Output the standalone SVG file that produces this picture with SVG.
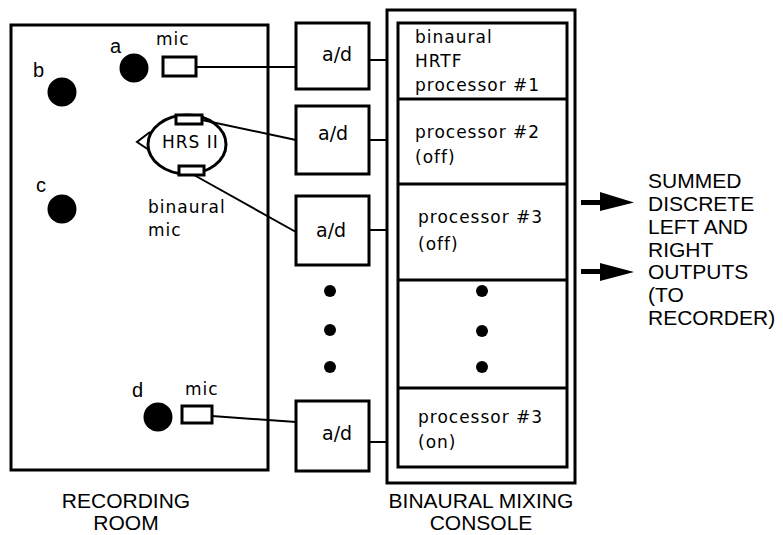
<svg xmlns="http://www.w3.org/2000/svg" width="783" height="535" viewBox="0 0 783 535">
<style>
.box{fill:#fff;stroke:#000;stroke-width:3}
.ln{stroke:#000;stroke-width:2;fill:none}
.dv{stroke:#000;stroke-width:3}
.dot{fill:#000}
.t{font-family:"DejaVu Sans",Verdana,sans-serif;font-size:17px;letter-spacing:1px;fill:#000}
.ad{font-family:"DejaVu Sans",Verdana,sans-serif;font-size:19px;fill:#000}
.lt{font-family:"Liberation Sans",Arial,sans-serif;font-size:20px;fill:#000}
.cap{font-family:"Liberation Sans",Arial,sans-serif;font-size:21px;fill:#000}
</style>
<rect width="783" height="535" fill="#fff"/>

<g id="room">
<rect class="box" x="11" y="25" width="257" height="445"/>
<text class="cap" x="126" y="508" text-anchor="middle">RECORDING</text>
<text class="cap" x="126" y="530" text-anchor="middle">ROOM</text>
</g>

<g id="source-a">
<circle class="dot" cx="134" cy="68" r="14.5"/>
<text class="lt" x="110" y="53">a</text>
</g>
<g id="source-b">
<circle class="dot" cx="62" cy="92" r="14.5"/>
<text class="lt" x="33" y="77">b</text>
</g>
<g id="source-c">
<circle class="dot" cx="62" cy="209" r="14.5"/>
<text class="lt" x="36" y="192">c</text>
</g>
<g id="source-d">
<circle class="dot" cx="158" cy="417" r="14.5"/>
<text class="lt" x="132" y="397">d</text>
</g>

<g id="mic-a">
<rect class="box" x="163" y="57" width="33" height="19"/>
<text class="t" x="156" y="45">mic</text>
</g>
<g id="mic-d">
<rect class="box" x="182" y="406" width="30" height="17"/>
<text class="t" x="185" y="395">mic</text>
</g>

<g id="binaural-mic">
<ellipse class="box" cx="187" cy="144.5" rx="39" ry="29.5"/>
<polyline class="ln" points="150,132 137,142 149,150"/>
<rect class="box" x="176" y="115" width="26" height="9"/>
<rect class="box" x="179" y="166" width="25" height="9"/>
<text class="t" x="162" y="148">HRS II</text>
<text class="t" x="148" y="213">binaural</text>
<text class="t" x="148" y="236">mic</text>
</g>

<g id="ad1">
<rect class="box" x="296" y="23" width="73" height="66"/>
<text class="ad" x="322" y="61">a/d</text>
</g>
<g id="ad2">
<rect class="box" x="296" y="106" width="73" height="68"/>
<text class="ad" x="318" y="140">a/d</text>
</g>
<g id="ad3">
<rect class="box" x="296" y="196" width="73" height="69"/>
<text class="ad" x="316" y="237">a/d</text>
</g>
<g id="ad4">
<rect class="box" x="296" y="401" width="73" height="70"/>
<text class="ad" x="322" y="440">a/d</text>
</g>
<g id="ad-dots">
<circle class="dot" cx="330" cy="291" r="6"/>
<circle class="dot" cx="330" cy="330" r="6"/>
<circle class="dot" cx="330" cy="367" r="6"/>
</g>

<g id="console">
<rect class="box" x="387" y="10" width="188" height="473"/>
<rect class="box" x="398" y="23" width="169" height="444"/>
<line class="dv" x1="398" y1="99" x2="567" y2="99"/>
<line class="dv" x1="398" y1="184" x2="567" y2="184"/>
<line class="dv" x1="398" y1="280" x2="567" y2="280"/>
<line class="dv" x1="398" y1="388" x2="567" y2="388"/>
<text class="cap" x="481" y="508" text-anchor="middle">BINAURAL MIXING</text>
<text class="cap" x="481" y="530" text-anchor="middle">CONSOLE</text>
</g>
<g id="proc1">
<text class="t" x="415" y="43">binaural</text>
<text class="t" x="415" y="67">HRTF</text>
<text class="t" x="415" y="91">processor #1</text>
</g>
<g id="proc2">
<text class="t" x="415" y="138">processor #2</text>
<text class="t" x="415" y="163">(off)</text>
</g>
<g id="proc3">
<text class="t" x="418" y="223">processor #3</text>
<text class="t" x="418" y="250">(off)</text>
</g>
<g id="proc-dots">
<circle class="dot" cx="482" cy="291" r="6"/>
<circle class="dot" cx="482" cy="331" r="6"/>
<circle class="dot" cx="482" cy="367" r="6"/>
</g>
<g id="proc-n">
<text class="t" x="418" y="423">processor #3</text>
<text class="t" x="418" y="448">(on)</text>
</g>

<g id="outputs">
<text class="cap" x="648" y="188">SUMMED</text>
<text class="cap" x="648" y="211">DISCRETE</text>
<text class="cap" x="648" y="234">LEFT AND</text>
<text class="cap" x="648" y="257">RIGHT</text>
<text class="cap" x="648" y="279">OUTPUTS</text>
<text class="cap" x="648" y="302">(TO</text>
<text class="cap" x="648" y="325">RECORDER)</text>
</g>

<g id="connectors">
<line class="ln" x1="196" y1="67" x2="296" y2="67"/>
<line class="ln" x1="202" y1="120" x2="296" y2="140"/>
<line class="ln" x1="194" y1="175" x2="296" y2="232"/>
<line class="ln" x1="212" y1="416" x2="296" y2="422"/>
<line class="ln" x1="369" y1="60" x2="387" y2="60"/>
<line class="ln" x1="369" y1="140" x2="387" y2="140"/>
<line class="ln" x1="369" y1="230" x2="387" y2="230"/>
<line class="ln" x1="369" y1="442" x2="387" y2="442"/>
<rect x="581" y="200" width="20" height="5" fill="#000"/>
<polygon points="600,192 634,202.5 600,211" fill="#000"/>
<rect x="581" y="269" width="20" height="5" fill="#000"/>
<polygon points="600,263 634,272 600,281" fill="#000"/>
</g>
</svg>
